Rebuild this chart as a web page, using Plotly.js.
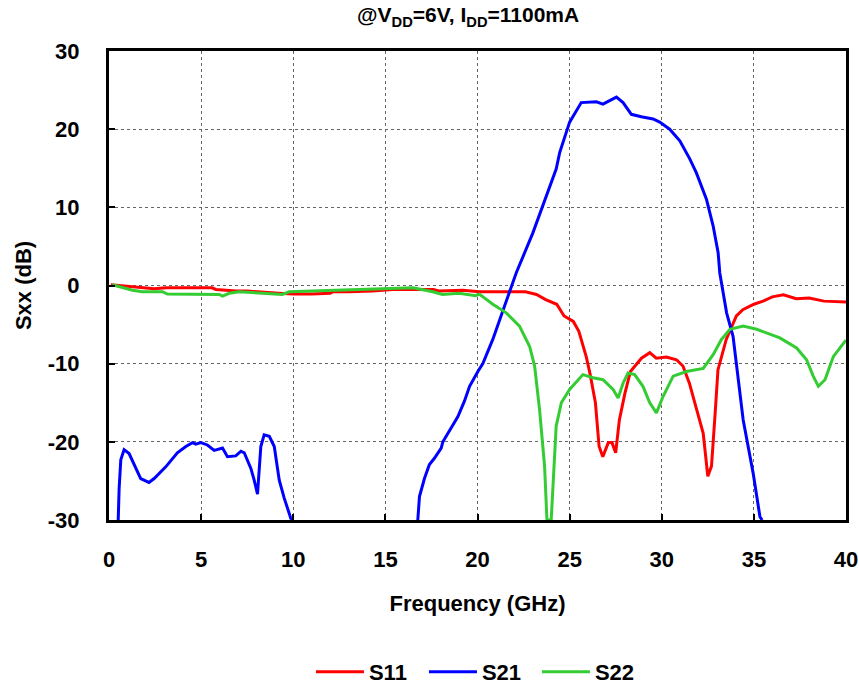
<!DOCTYPE html>
<html>
<head>
<meta charset="utf-8">
<script src="https://cdn.plot.ly/plotly-3.0.1.min.js"></script>
<style>html,body{margin:0;padding:0;background:#fff;}#chart{width:859px;height:684px;}</style>
</head>
<body>
<div id="chart"></div>
<script>
// S11
var s11Freq = [0.1,0.5,1.0,1.6,2.45,3.1,4,5,5.6,5.8,6.9,7.5,8.5,9.2,10,11,12,12.15,13,14.3,15.4,16.5,17.6,17.9,19.2,20.1,21,22,22.6,23.2,23.7,24.3,24.7,25.2,25.5,25.9,26.1,26.4,26.6,26.8,27.1,27.3,27.5,27.7,28,28.3,28.9,29.35,29.7,30.25,30.8,31.15,31.5,31.9,32.25,32.5,32.7,32.9,33.05,33.5,34.05,34.4,35,35.5,36,36.6,37.3,38,38.8,40];
var s11dB = [0.1,0,-0.1,-0.2,-0.4,-0.3,-0.3,-0.3,-0.3,-0.5,-0.7,-0.7,-0.9,-1.0,-1.1,-1.1,-1.0,-0.8,-0.8,-0.7,-0.5,-0.5,-0.5,-0.7,-0.6,-0.8,-0.8,-0.8,-0.8,-1.15,-1.8,-2.4,-3.9,-4.6,-5.85,-9.1,-11.2,-15,-20.6,-21.9,-20.1,-20.1,-21.4,-17.2,-13.8,-11,-9.3,-8.6,-9.3,-9.15,-9.5,-10.3,-12.5,-15.9,-18.9,-24.4,-23.1,-16.3,-10.8,-6.9,-3.9,-3.1,-2.4,-2.0,-1.45,-1.2,-1.7,-1.6,-2.0,-2.1];
// S21
var s21Freq = [0.5,0.55,0.64,0.82,1.09,1.36,1.72,2.17,2.45,3.08,3.71,4.17,4.53,4.71,4.98,5.34,5.71,6.16,6.43,6.88,7.16,7.34,7.7,7.88,8.06,8.24,8.42,8.7,8.97,9.24,9.51,9.87,10.0,13,16.76,16.85,17.12,17.39,17.66,18.03,18.12,18.48,18.93,19.29,19.57,20.02,20.29,20.83,21.74,22.1,23.0,23.73,24.27,24.46,25.0,25.63,26.45,26.81,27.17,27.54,27.9,28.35,28.89,29.53,29.89,30.43,30.98,31.52,31.88,32.43,32.79,33.06,33.15,33.52,33.87,34.24,34.42,34.96,35.33,35.45];
var s21dB = [-30,-26,-22.3,-21.0,-21.5,-22.9,-24.7,-25.2,-24.7,-23.2,-21.4,-20.6,-20.1,-20.3,-20.1,-20.4,-21.1,-20.8,-21.9,-21.8,-21.2,-21.4,-23.4,-24.9,-26.7,-20.6,-19.1,-19.3,-20.6,-24.9,-27.2,-29.8,-30,null,-30,-27.0,-24.7,-22.9,-22.1,-20.8,-20.0,-18.5,-16.8,-14.8,-12.9,-11.0,-10.0,-6.9,-0.9,1.6,6.7,11.4,14.9,17.0,20.9,23.4,23.5,23.2,23.6,24.1,23.4,21.9,21.6,21.3,20.9,20.0,18.5,16.2,14.4,11.0,7.6,4.2,1.6,-3.5,-6.5,-13.8,-17.2,-24.0,-29.6,-30];
// S22
var s22Freq = [0.18,0.72,1.27,1.81,2.9,3.17,5.98,6.16,6.52,7.07,8.5,9.4,9.78,12.14,15.4,16.5,17.57,18.1,19.0,19.9,20.1,20.83,21.56,22.28,22.83,23.1,23.37,23.64,23.77,24.0,24.27,24.55,25.0,25.72,26.27,26.81,27.36,27.63,27.9,28.17,28.53,28.98,29.35,29.71,30.07,30.62,31.34,32.25,32.79,33.24,33.7,34.42,35.15,36.41,37.32,37.86,38.22,38.5,38.86,39.31,39.86,40];
var s22dB = [0.1,-0.2,-0.6,-0.8,-0.8,-1.1,-1.15,-1.35,-1.0,-0.8,-1.0,-1.15,-0.8,-0.6,-0.3,-0.3,-0.8,-1.15,-1.0,-1.3,-1.1,-2.4,-3.5,-5.2,-7.8,-10.3,-15.9,-23.1,-30,-30,-18.0,-15.0,-13.3,-11.4,-11.8,-12.05,-13.3,-14.4,-12.5,-11.2,-11.4,-12.9,-15.0,-16.3,-14.2,-11.6,-11.0,-10.6,-8.85,-6.9,-5.6,-5.2,-5.6,-6.7,-8.0,-9.5,-11.6,-12.9,-12.05,-9.1,-7.4,-7.0];

var xTicks = [0,5,10,15,20,25,30,35,40];
var xTickText = ['0','5','10','15','20','25','30','35','40'];
var yTicks = [-30,-20,-10,0,10,20,30];
var yTickText = ['-30','-20','-10','0','10','20','30'];

var FONT = 'Liberation Sans, Arial, sans-serif';
var traces = [
  {x: s11Freq, y: s11dB, name: 'S11', mode: 'lines', line: {color: '#ff0000', width: 3}},
  {x: s21Freq, y: s21dB, name: 'S21', mode: 'lines', connectgaps: false, line: {color: '#0000ff', width: 3}},
  {x: s22Freq, y: s22dB, name: 'S22', mode: 'lines', line: {color: '#33cc33', width: 3}}
];
var axisCommon = {
  showline: true, mirror: true, linecolor: '#000', linewidth: 3,
  showgrid: true, gridcolor: '#666', griddash: 'dot', gridwidth: 1,
  zeroline: false, ticks: 'inside', ticklen: 6, tickwidth: 2, tickcolor: '#000',
  tickfont: {family: FONT, size: 22, color: '#000', weight: 'bold'}
};
var layout = {
  width: 859, height: 684,
  margin: {l: 109, r: 13, t: 51, b: 164, autoexpand: false},
  paper_bgcolor: '#fff', plot_bgcolor: '#fff',
  font: {family: FONT, color: '#000'},
  title: {text: '@V<sub>DD</sub>=6V, I<sub>DD</sub>=1100mA', x: 0.545, xanchor: 'center', xref: 'container', y: 0.978, yanchor: 'middle',
          font: {family: FONT, size: 21, weight: 'bold', color: '#000'}},
  xaxis: Object.assign({}, axisCommon, {
    range: [0, 40], tickvals: xTicks, ticktext: xTickText, ticklabelstandoff: 18,
    title: {text: 'Frequency (GHz)', standoff: 25, font: {family: FONT, size: 22, weight: 'bold', color: '#000'}}
  }),
  yaxis: Object.assign({}, axisCommon, {
    range: [-30, 30], tickvals: yTicks, ticktext: yTickText, ticklabelstandoff: 22,
    title: {text: 'Sxx (dB)', standoff: 11, font: {family: FONT, size: 22, weight: 'bold', color: '#000'}}
  }),
  showlegend: true,
  legend: {orientation: 'h', x: 0.504, xanchor: 'center', xref: 'paper', y: -0.324, yanchor: 'middle',
           font: {family: FONT, size: 22, weight: 'bold', color: '#000'}, itemwidth: 48, entrywidth: 50}
};
Plotly.newPlot('chart', traces, layout, {staticPlot: true, displayModeBar: false});
</script>
</body>
</html>
